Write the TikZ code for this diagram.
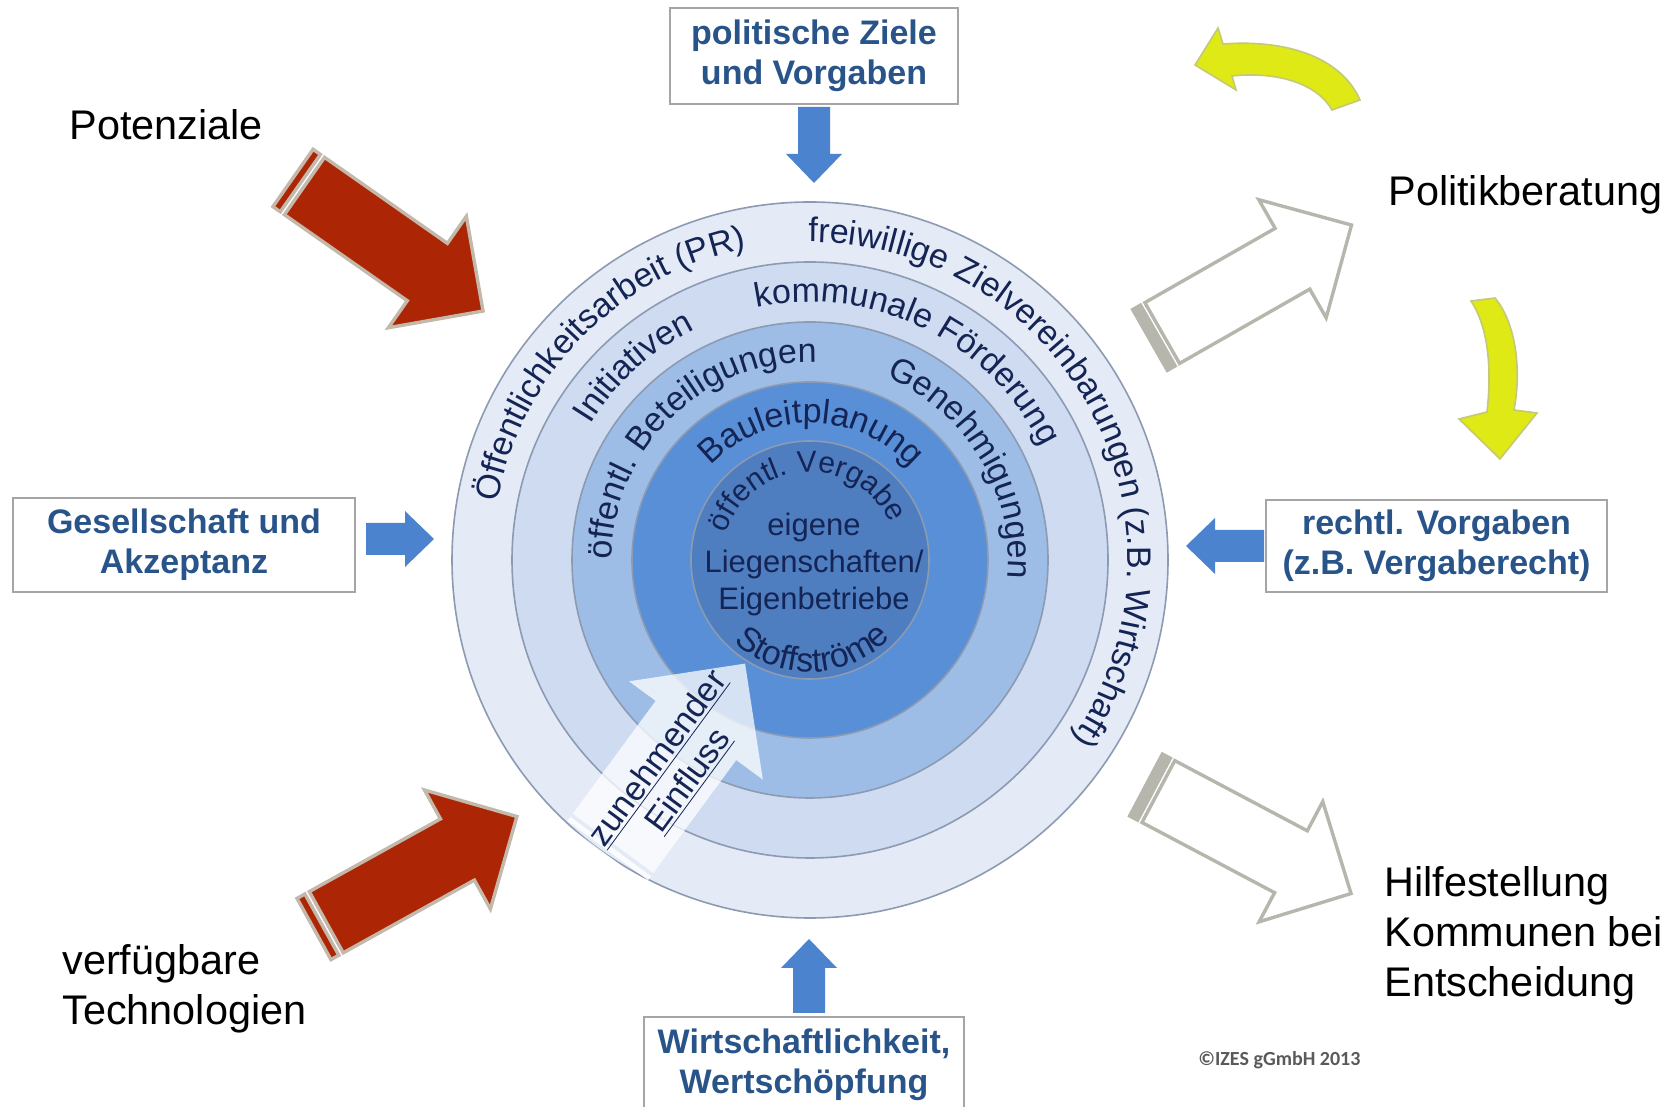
\documentclass[tikz,border=0pt]{standalone}
\usepackage{fontspec}
\setmainfont{Liberation Sans}
\newfontfamily\notefont{Carlito}
\usetikzlibrary{positioning, calc, decorations.text}

\definecolor{ringA}{RGB}{228,235,247}
\definecolor{ringB}{RGB}{206,219,241}
\definecolor{ringC}{RGB}{158,189,230}
\definecolor{ringD}{RGB}{88,143,214}
\definecolor{ringE}{RGB}{78,125,192}
\definecolor{ringline}{RGB}{140,154,178}
\definecolor{ringtxt}{RGB}{20,36,84}
\definecolor{boxtxt}{RGB}{40,84,138}
\definecolor{boxline}{RGB}{165,165,165}
\definecolor{bluearrow}{RGB}{75,131,206}
\definecolor{redarrow}{RGB}{172,38,6}
\definecolor{redrim}{RGB}{196,184,170}
\definecolor{greyrim}{RGB}{182,182,172}
\definecolor{yellowarrow}{RGB}{222,233,22}
\definecolor{yellowrim}{RGB}{196,200,120}
\definecolor{notegrey}{RGB}{90,90,90}

\newcommand\ringfont{\fontsize{17}{20}\selectfont\color{ringtxt}}
\newcommand\corefont{\fontsize{15}{18}\selectfont\color{ringtxt}}

% text bent along a ring, read clockwise: radius, middle angle, half span, font, text
\newcommand\ringtext[5]{%
  \pgfmathsetmacro\ringsa{#2+#3}\pgfmathsetmacro\ringea{#2-#3}%
  \path[decorate, decoration={text along path, text align=center, text={|#4|#5}}]
    ($(ctr)+(\ringsa:#1)$) arc[start angle=\ringsa, end angle=\ringea, radius=#1];}
% same, read counter-clockwise (lower half of a ring)
\newcommand\ringtextccw[5]{%
  \pgfmathsetmacro\ringsa{#2-#3}\pgfmathsetmacro\ringea{#2+#3}%
  \path[decorate, decoration={text along path, text align=center, text={|#4|#5}}]
    ($(ctr)+(\ringsa:#1)$) arc[start angle=\ringsa, end angle=\ringea, radius=#1];}

% striped block arrow: tail, direction, body fill, stripe fill, rim
\newcommand\bigarrow[5]{%
  \begin{scope}[shift={(#1)}, rotate=#2, line width=1.7pt, line join=miter]
    \filldraw[fill=#4, draw=#5] (0,-35) rectangle (9,35);
    \filldraw[fill=#3, draw=#5] (14,-35) -- (164,-35) -- (164,-68) -- (232,0)
      -- (164,68) -- (164,35) -- (14,35) -- cycle;
  \end{scope}}

% small blue arrow: start, direction, length
\newcommand\feedarrow[3]{%
  \begin{scope}[shift={(#1)}, rotate=#2]
    \fill[bluearrow] (0,-16) -- (#3-29,-16) -- (#3-29,-28) -- (#3,0)
      -- (#3-29,28) -- (#3-29,16) -- (0,16) -- cycle;
  \end{scope}}

\begin{document}
\begin{tikzpicture}[x=0.5pt, y=0.5pt,
    infobox/.style={draw=boxline, line width=1pt, fill=white, text=boxtxt,
        font=\bfseries\fontsize{17}{20}\selectfont, align=center, inner sep=0pt},
    sidetext/.style={font=\fontsize{20.7}{25}\selectfont, text=black,
        align=left, inner sep=0pt, anchor=west},
    coretext/.style={font=\fontsize{15.5}{18.5}\selectfont, text=ringtxt,
        align=center, inner sep=0pt},
    ring/.style={draw=ringline, line width=0.8pt}
]
\useasboundingbox (0,0) rectangle (1674,1107);
\clip (0,0) rectangle (1674,1107);

% ============ RINGS ============
\coordinate (ctr) at (810,547);
\filldraw[ring, fill=ringA] (ctr) circle[radius=358];
\filldraw[ring, fill=ringB] (ctr) circle[radius=298];
\filldraw[ring, fill=ringC] (ctr) circle[radius=238];
\filldraw[ring, fill=ringD] (ctr) circle[radius=178];
\filldraw[ring, fill=ringE] (ctr) circle[radius=119];

% ring labels
\ringtext{318}{135.5}{70}{\ringfont}{Öffentlichkeitsarbeit (PR)}
\ringtext{318}{28}{100}{\ringfont}{freiwillige Zielvereinbarungen (z.B. Wirtschaft)}
\ringtext{258}{132.5}{40}{\ringfont}{Initiativen}
\ringtext{258}{64}{60}{\ringfont}{kommunale Förderung}
\ringtext{198}{134}{70}{\ringfont}{öffentl. Beteiligungen}
\ringtext{198}{31}{60}{\ringfont}{Genehmigungen}
\ringtext{137}{89.5}{80}{\ringfont}{Bauleitplanung}
\ringtext{88}{93.5}{85}{\corefont}{öffentl. Vergabe}
\ringtextccw{112}{271.5}{70}{\ringfont}{Stoffströme}

\node[coretext] (eigen) at (814,543) {eigene\\Liegenschaften/\\Eigenbetriebe};

% ============ INFLUENCE ARROW ============
\begin{scope}[shift={(603,250)}, rotate=53.7]
  \fill[white, fill opacity=0.85] (0,-50) rectangle (4,50);
  \fill[white, fill opacity=0.85] (8,-50) rectangle (13,50);
  \fill[white, fill opacity=0.75] (17,-50) -- (157,-50) -- (157,-83) -- (240,0)
    -- (157,83) -- (157,50) -- (17,50) -- cycle;
  \node[rotate=53.7, font=\fontsize{17}{19}\selectfont, text=ringtxt,
        align=center, inner sep=0pt] (einfluss) at (112,-5)
    {\underline{zunehmender}\\\underline{Einfluss}};
\end{scope}

% ============ INPUT / OUTPUT ARROWS ============
\bigarrow{293,929}{-35}{redarrow}{redarrow}{redrim}
\bigarrow{314,178}{29}{redarrow}{redarrow}{redrim}
\bigarrow{1150,767}{29.7}{white}{greyrim}{greyrim}
\bigarrow{1146,322}{-27.9}{white}{greyrim}{greyrim}

% yellow feedback arrows
\filldraw[fill=yellowarrow, draw=yellowrim, line width=0.8pt, line join=miter]
  (1360,1007) .. controls (1342,1048) and (1290,1068) .. (1223,1063)
  -- (1218,1079) -- (1195,1042) -- (1236,1017) -- (1232,1031)
  .. controls (1280,1036) and (1318,1022) .. (1332,997) -- cycle;
\filldraw[fill=yellowarrow, draw=yellowrim, line width=0.8pt, line join=miter]
  (1471,806) .. controls (1488,780) and (1492,740) .. (1487,695)
  -- (1459,688) -- (1500,648) -- (1537,694) -- (1514,697)
  .. controls (1522,740) and (1515,785) .. (1495,809) -- cycle;

% ============ FRAME CONDITIONS ============
\node[infobox, minimum width=144pt, minimum height=48pt] (ziele) at (814,1051)
    {politische Ziele\\und Vorgaben};
\node[infobox, minimum width=171pt, minimum height=47pt] (gesell) at (184,562)
    {Gesellschaft und\\Akzeptanz};
\node[infobox, minimum width=170.5pt, minimum height=46pt] (recht) at (1436.5,561)
    {rechtl. Vorgaben\\(z.B. Vergaberecht)};
\node[infobox, minimum width=160pt, minimum height=48pt] (wirtschaft) at (804,42)
    {Wirtschaftlichkeit,\\Wertschöpfung};

\feedarrow{$(ziele.south)+(0,-2)$}{-90}{76}
\feedarrow{$(gesell.east)+(10,6)$}{0}{68}
\feedarrow{$(recht.west)+(-1,0)$}{180}{78}
\feedarrow{$(wirtschaft.north)+(5,3)$}{90}{74}

% ============ SIDE LABELS ============
\node[sidetext] (potenz) at (69,982) {Potenziale};
\node[sidetext] (technik) at (62,118) {verfügbare\\Technologien};
\node[sidetext] (beratung) at (1388,912) {Politikberatung};
\node[sidetext] (hilfe) at (1384,171) {Hilfestellung\\Kommunen bei\\Entscheidung};

\node[anchor=west, inner sep=0pt, text=notegrey,
      font=\notefont\bfseries\fontsize{10}{12}\selectfont] (izes) at (1198,47)
    {©IZES gGmbH 2013};

\end{tikzpicture}
\end{document}
